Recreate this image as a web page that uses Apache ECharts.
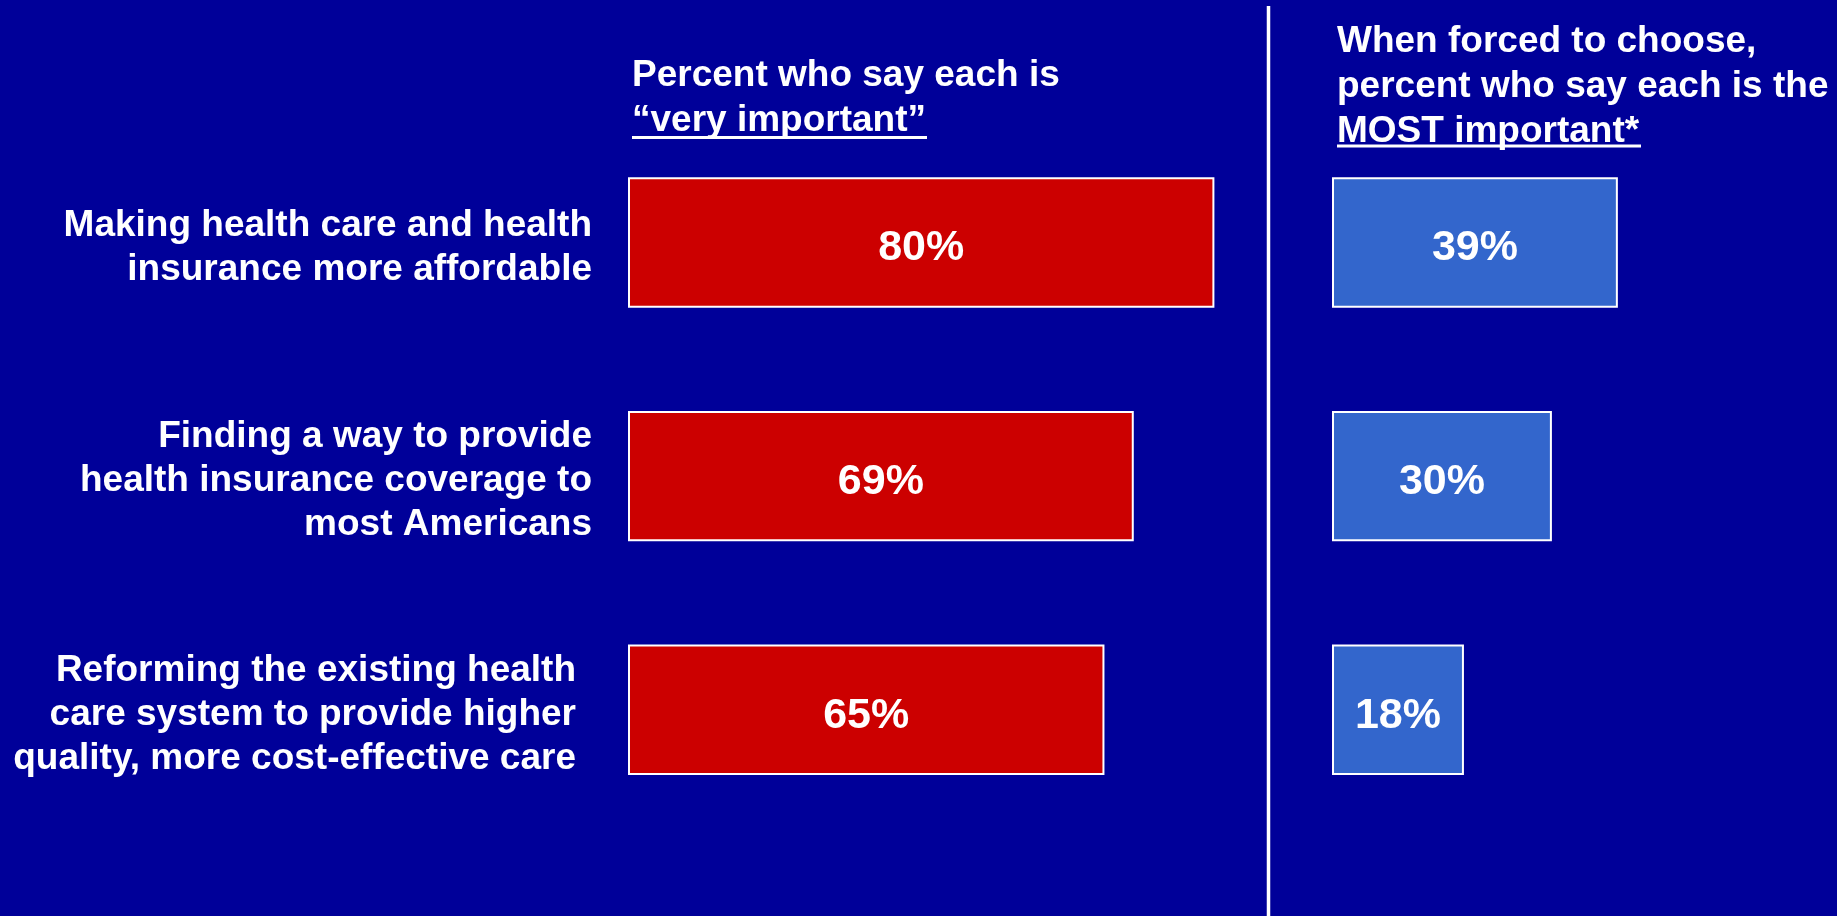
<!DOCTYPE html>
<html>
<head>
<meta charset="utf-8">
<script src="https://cdn.jsdelivr.net/npm/echarts@6/dist/echarts.min.js"></script>
<style>
html,body{margin:0;padding:0;background:#000099;}
#chart{width:1837px;height:916px;}
</style>
</head>
<body>
<div id="chart"></div>
<script>
var categories = [
  "Making health care and health\ninsurance more affordable",
  "Finding a way to provide\nhealth insurance coverage to\nmost Americans",
  "Reforming the existing health\ncare system to provide higher\nquality, more cost-effective care"
];
var veryImportant = [80, 69, 65];
var mostImportant = [39, 30, 18];
var leftTitle = "Percent who say each is\n\u201cvery important\u201d";
var rightTitle = "When forced to choose,\npercent who say each is the\nMOST important*";

var FONT = '"Liberation Sans", Arial, Helvetica, sans-serif';
var chart = echarts.init(document.getElementById('chart'), null, {renderer: 'canvas'});

var catData = categories.map(function (c, i) {
  var o = {value: c};
  if (i === 2) o.textStyle = {padding: [0, 16, 0, 0]};
  return o;
});

var valueLabel = {
  show: true, position: 'inside', formatter: '{c}%', offset: [0, 6],
  color: '#fff', fontFamily: FONT, fontWeight: 'bold', fontSize: 43
};

var option = {
  backgroundColor: '#000099',
  animation: false,
  title: [
    {
      text: leftTitle, left: 632, top: 53, padding: 0,
      textStyle: {color: '#fff', fontFamily: FONT, fontWeight: 'bold', fontSize: 37, lineHeight: 45}
    },
    {
      text: rightTitle, left: 1337, top: 19, padding: 0,
      textStyle: {color: '#fff', fontFamily: FONT, fontWeight: 'bold', fontSize: 37, lineHeight: 45}
    }
  ],
  grid: [
    {left: 628, top: 125.6, width: 733, height: 701},
    {left: 1332, top: 125.6, width: 366.5, height: 701}
  ],
  xAxis: [
    {gridIndex: 0, type: 'value', min: 0, max: 100, show: false},
    {gridIndex: 1, type: 'value', min: 0, max: 50, show: false}
  ],
  yAxis: [
    {
      gridIndex: 0, type: 'category', data: catData, inverse: true,
      axisLine: {show: false}, axisTick: {show: false},
      axisLabel: {
        color: '#fff', fontFamily: FONT, fontWeight: 'bold', fontSize: 37,
        lineHeight: 44, align: 'right', margin: 36,
        formatter: function (v) { return '{s| }\n' + v; },
        rich: {s: {fontSize: 1, lineHeight: 10}}
      }
    },
    {
      gridIndex: 1, type: 'category', data: categories, inverse: true,
      axisLine: {show: false}, axisTick: {show: false}, axisLabel: {show: false}
    }
  ],
  series: [
    {
      type: 'bar', xAxisIndex: 0, yAxisIndex: 0, data: veryImportant,
      barCategoryGap: '44.2%',
      itemStyle: {color: '#CC0000', borderColor: '#ffffff', borderWidth: 2},
      label: valueLabel
    },
    {
      type: 'bar', xAxisIndex: 1, yAxisIndex: 1, data: mostImportant,
      barCategoryGap: '44.2%',
      itemStyle: {color: '#3366CC', borderColor: '#ffffff', borderWidth: 2},
      label: valueLabel
    }
  ],
  graphic: [
    {type: 'line', shape: {x1: 1268.5, y1: 6, x2: 1268.5, y2: 916}, style: {stroke: '#fff', lineWidth: 3.5}},
    {type: 'line', shape: {x1: 632, y1: 137.5, x2: 927, y2: 137.5}, style: {stroke: '#fff', lineWidth: 3}},
    {type: 'line', shape: {x1: 1337, y1: 146, x2: 1641, y2: 146}, style: {stroke: '#fff', lineWidth: 3}}
  ]
};
chart.setOption(option);
</script>
</body>
</html>
